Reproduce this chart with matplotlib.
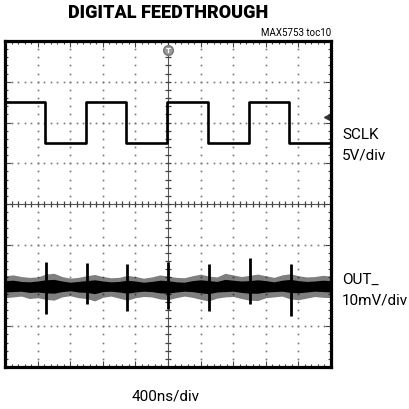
import numpy as np
import matplotlib.pyplot as plt

# scope screen: 10 x 8 divisions, x in div, y in div (centre = 0)
sclk_edges = [0.0, 1.22, 2.47, 3.72, 4.97, 6.22, 7.47, 8.72, 10.0]
sclk_levels = [2.5, 1.5, 2.5, 1.5, 2.5, 1.5, 2.5, 1.5, 1.5]

# OUT_ noise band envelope, read every 0.25 div
out_top = [-1.76, -1.74, -1.78, -1.80, -1.79, -1.72, -1.70, -1.78, -1.82, -1.80,
           -1.76, -1.73, -1.78, -1.81, -1.80, -1.75, -1.78, -1.82, -1.79, -1.74,
           -1.77, -1.80, -1.81, -1.76, -1.72, -1.77, -1.79, -1.70, -1.74, -1.78,
           -1.75, -1.72, -1.76, -1.80, -1.74, -1.71, -1.76, -1.79, -1.78, -1.75, -1.77]
out_bot = [-2.30, -2.28, -2.26, -2.32, -2.30, -2.34, -2.36, -2.28, -2.25, -2.30,
           -2.32, -2.38, -2.29, -2.26, -2.31, -2.36, -2.30, -2.27, -2.28, -2.33,
           -2.35, -2.30, -2.26, -2.29, -2.34, -2.38, -2.31, -2.28, -2.27, -2.32,
           -2.36, -2.37, -2.30, -2.28, -2.26, -2.33, -2.35, -2.31, -2.27, -2.29, -2.30]
core_top = [-1.88, -1.87, -1.90, -1.91, -1.89, -1.86, -1.85, -1.89, -1.92, -1.90,
            -1.88, -1.86, -1.89, -1.91, -1.90, -1.87, -1.89, -1.92, -1.90, -1.87,
            -1.88, -1.91, -1.92, -1.88, -1.86, -1.88, -1.90, -1.85, -1.87, -1.89,
            -1.88, -1.86, -1.88, -1.91, -1.87, -1.85, -1.88, -1.90, -1.89, -1.87, -1.88]
core_bot = [-2.16, -2.15, -2.14, -2.17, -2.16, -2.18, -2.19, -2.15, -2.13, -2.16,
            -2.17, -2.20, -2.15, -2.14, -2.16, -2.19, -2.16, -2.14, -2.15, -2.18,
            -2.19, -2.16, -2.14, -2.15, -2.18, -2.20, -2.16, -2.15, -2.14, -2.17,
            -2.19, -2.19, -2.16, -2.15, -2.14, -2.17, -2.18, -2.16, -2.14, -2.15, -2.16]

spike_x = [1.26, 2.52, 3.74, 5.0, 6.26, 7.52, 8.78]
spike_top = [-1.42, -1.45, -1.47, -1.43, -1.47, -1.33, -1.47]
spike_bot = [-2.70, -2.45, -2.63, -2.58, -2.63, -2.45, -2.75]

fig = plt.figure(figsize=(4.09, 4.10), dpi=100)
ax = fig.add_axes([5/409, 1-368/410, 326/409, 326/410])
ax.set_xlim(0, 10)
ax.set_ylim(-4, 4)

# dotted graticule
minor_x = np.arange(0, 10.01, 0.2)
minor_y = np.arange(-4, 4.01, 0.2)
for k in range(1, 10):
    if k != 5:
        ax.plot([k]*len(minor_y), minor_y, ls='none', marker='s', ms=1.2, mew=0, color='#777777', zorder=1)
for k in range(-3, 4):
    if k != 0:
        ax.plot(minor_x, [k]*len(minor_x), ls='none', marker='s', ms=1.2, mew=0, color='#777777', zorder=1)

# centre cross with tick marks
ax.axhline(0, color='#555555', lw=0.8, zorder=1)
ax.axvline(5, color='#555555', lw=0.8, zorder=1)
ax.plot(minor_x, np.zeros_like(minor_x), ls='none', marker='|', ms=5, mew=0.9, color='#444444', zorder=1)
ax.plot(np.full_like(minor_y, 5), minor_y, ls='none', marker='_', ms=5, mew=0.9, color='#444444', zorder=1)

# SCLK trace
ax.step(sclk_edges, sclk_levels, where='post', color='black', lw=1.9, zorder=3)

# OUT_ trace
xs = np.linspace(0, 10, len(out_top))
ax.fill_between(xs, out_bot, out_top, color='black', alpha=0.5, lw=0, zorder=3)
ax.fill_between(xs, core_bot, core_top, color='black', lw=0, zorder=3)
ax.vlines(spike_x, spike_bot, spike_top, color='black', lw=2.0, zorder=3)

# trigger markers
ax.plot(5, 3.78, marker='o', ms=7, color='#999999', mec='#777777', zorder=4)
ax.text(5, 3.78, 'T', color='white', fontsize=5, ha='center', va='center', fontweight='bold', zorder=5)
ax.plot(9.88, 2.13, marker='<', ms=4, color='#333333', zorder=4)

for s in ax.spines.values():
    s.set_linewidth(2.3)
    s.set_zorder(6)
ax.set_xticks(np.arange(0, 11, 1))
ax.set_yticks(np.arange(-4, 5, 1))
ax.set_xticks(minor_x, minor=True)
ax.set_yticks(minor_y, minor=True)
ax.tick_params(which='both', direction='in', top=True, right=True,
               labelbottom=False, labelleft=False, color='#444444')
ax.tick_params(which='major', length=4, width=0.8)
ax.tick_params(which='minor', length=2.5, width=0.8)

lab = ['Roboto', 'DejaVu Sans']
fig.text(168/409, 1-13/410, 'DIGITAL FEEDTHROUGH', ha='center', va='center',
         fontsize=13, fontweight='black', family=['Roboto', 'DejaVu Sans'])
fig.text(331/409, 1-33/410, 'MAX5753 toc10', ha='right', va='center', fontsize=7, family=lab)
fig.text(342/409, 1-135/410, 'SCLK', ha='left', va='center', fontsize=11, family=lab)
fig.text(342/409, 1-156/410, '5V/div', ha='left', va='center', fontsize=11, family=lab)
fig.text(342/409, 1-280/410, 'OUT_', ha='left', va='center', fontsize=11, family=lab)
fig.text(342/409, 1-301/410, '10mV/div', ha='left', va='center', fontsize=11, family=lab)
fig.text(166/409, 1-397/410, '400ns/div', ha='center', va='center', fontsize=11, family=lab)

fig.savefig('out.png', dpi=100)
